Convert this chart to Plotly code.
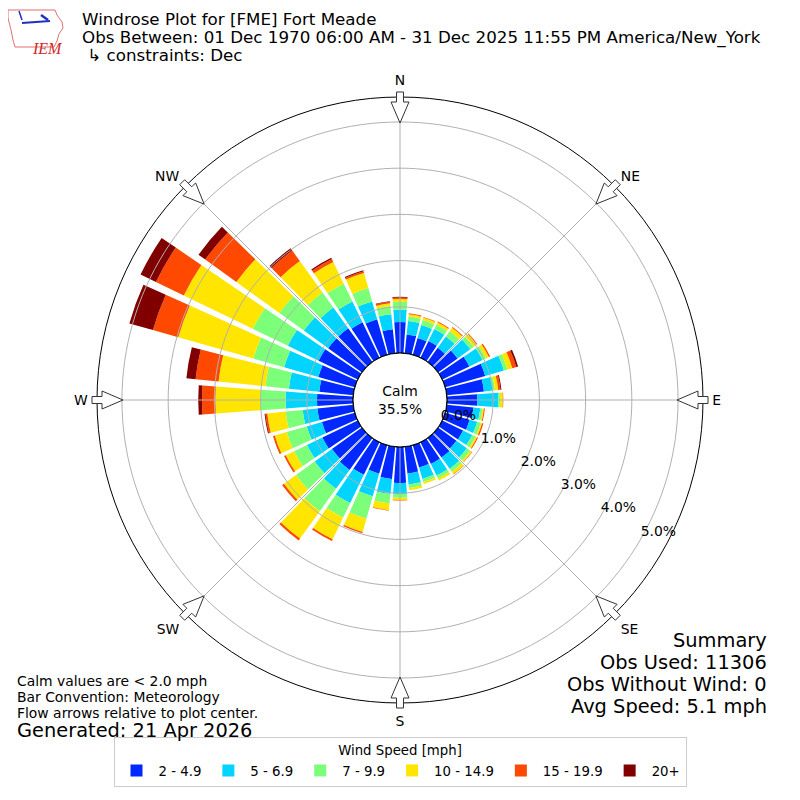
import math
import plotly.graph_objects as go

# wind direction bins (degrees, direction wind blows from)
directions = list(range(0, 360, 10))

speed_bins = ["2 - 4.9", "5 - 6.9", "7 - 9.9", "10 - 14.9", "15 - 19.9", "20+"]
bin_colors = ["#0028ff", "#00d4ff", "#7cff79", "#ffe500", "#ff4800", "#800000"]

# percent of observations per direction, one list per speed class
pct_2_5 = [0.67, 0.41, 0.38, 0.40, 0.38, 0.52, 0.65, 0.90, 0.81, 0.66,
           0.58, 0.55, 0.50, 0.49, 0.52, 0.52, 0.50, 0.58, 0.78,
           0.70, 0.64, 0.78, 0.85, 0.80, 0.85, 0.74, 0.78, 0.78,
           0.74, 0.82, 0.94, 0.90, 0.90, 0.85, 0.80, 0.52]
pct_5_7 = [0.27, 0.29, 0.29, 0.29, 0.30, 0.34, 0.32, 0.42, 0.19, 0.45,
           0.15, 0.17, 0.22, 0.28, 0.30, 0.28, 0.26, 0.24, 0.24,
           0.33, 0.51, 0.68, 0.50, 0.46, 0.37, 0.34, 0.32, 0.68,
           0.66, 0.77, 0.74, 0.65, 0.55, 0.50, 0.40, 0.33]
pct_7_10 = [0.17, 0.10, 0.11, 0.10, 0.14, 0.09, 0.08, 0.08, 0.05, 0.04,
            0.05, 0.08, 0.08, 0.09, 0.08, 0.07, 0.07, 0.08, 0.08,
            0.20, 0.50, 0.35, 0.60, 0.50, 0.31, 0.45, 0.37, 0.54,
            0.51, 0.69, 0.84, 0.65, 0.40, 0.43, 0.30, 0.18]
pct_10_15 = [0.06, 0.05, 0.06, 0.06, 0.09, 0.08, 0.07, 0.11, 0.07, 0.06,
             0.03, 0.03, 0.04, 0.04, 0.06, 0.05, 0.04, 0.04, 0.05,
             0.15, 0.30, 0.52, 0.73, 0.32, 0.20, 0.27, 0.40, 0.98,
             1.02, 1.69, 1.66, 1.15, 0.84, 0.52, 0.34, 0.06]
pct_15_20 = [0.03, 0.02, 0.01, 0.02, 0.02, 0.02, 0.03, 0.09, 0.05, 0.01,
             0.02, 0.03, 0.02, 0.01, 0.01, 0.00, 0.00, 0.00, 0.01,
             0.01, 0.03, 0.04, 0.05, 0.05, 0.04, 0.04, 0.04, 0.29,
             0.50, 0.57, 0.67, 0.83, 0.28, 0.07, 0.04, 0.03]
pct_20_up = [0.02, 0.00, 0.00, 0.00, 0.00, 0.00, 0.00, 0.04, 0.02, 0.00,
             0.00, 0.00, 0.00, 0.00, 0.00, 0.00, 0.00, 0.00, 0.00,
             0.00, 0.00, 0.00, 0.00, 0.00, 0.00, 0.00, 0.02, 0.08,
             0.20, 0.53, 0.37, 0.18, 0.06, 0.03, 0.02, 0.01]

radial_ticks = [0, 1, 2, 3, 4, 5]
radial_labels = ["0.0%", "1.0%", "2.0%", "3.0%", "4.0%", "5.0%"]
compass_angles = [0, 45, 90, 135, 180, 225, 270, 315]
compass_labels = ["N", "NE", "E", "SE", "S", "SW", "W", "NW"]

calm_pct = "35.5%"
r_max = 5.54
font = "DejaVu Sans"

# page has an 8px body margin, so the figure is 784px and sits at (8, 8)
W = 784
OFF = 8


def px(sx):
    return (sx - OFF) / W


def py(sy):
    return 1 - (sy - OFF) / W


fig = go.Figure()

series = [pct_2_5, pct_5_7, pct_7_10, pct_10_15, pct_15_20, pct_20_up]
for name, color, vals in zip(speed_bins, bin_colors, series):
    fig.add_trace(go.Barpolar(
        r=vals, theta=directions, width=8.4, name=name,
        marker=dict(color=color, line=dict(width=0)),
        hoverinfo="skip",
    ))

# grid drawn on top of the bars, like the original
ring_theta = list(range(0, 361, 2))
for t in radial_ticks[1:]:
    fig.add_trace(go.Scatterpolar(
        r=[t] * len(ring_theta), theta=ring_theta, mode="lines",
        line=dict(color="#b0b0b0", width=1), showlegend=False, hoverinfo="skip"))
for a in compass_angles:
    fig.add_trace(go.Scatterpolar(
        r=[0, r_max], theta=[a, a], mode="lines",
        line=dict(color="#b0b0b0", width=1), showlegend=False, hoverinfo="skip"))
# edge of the calm circle
fig.add_trace(go.Scatterpolar(
    r=[0] * len(ring_theta), theta=ring_theta, mode="lines",
    line=dict(color="black", width=1.2), showlegend=False, hoverinfo="skip"))
# radial labels, placed like matplotlib's (left-bottom at the ring)
fig.add_trace(go.Scatterpolar(
    r=radial_ticks, theta=[120] * len(radial_ticks), mode="text",
    text=radial_labels, textposition="top right",
    textfont=dict(size=13.9, color="black"), showlegend=False, hoverinfo="skip"))

# flow arrows on the outer ring (plot centre at 400,400 on the page)
cx, cy = 400, 400
shapes = []
outline = [(308, -3.5), (298, -3.5), (298, -9), (277, 0), (298, 9), (298, 3.5), (308, 3.5)]
for a in compass_angles:
    rad = math.radians(a)
    ux, uy = math.sin(rad), -math.cos(rad)
    vx, vy = math.cos(rad), math.sin(rad)
    pts = []
    for rr, ww in outline:
        sx = cx + rr * ux + ww * vx
        sy = cy + rr * uy + ww * vy
        pts.append("%.5f,%.5f" % (px(sx), py(sy)))
    shapes.append(dict(type="path", xref="paper", yref="paper",
                       path="M" + " L".join(pts) + " Z",
                       fillcolor="white", line=dict(color="#333333", width=1)))

# IEM logo (rough)
iowa = [(8, 10), (55, 10), (57, 15), (62, 22), (63, 28), (59, 34), (57, 41),
        (54, 47), (15, 47), (13, 40), (11, 30), (8, 18)]
shapes.append(dict(type="path", xref="paper", yref="paper",
                   path="M" + " L".join("%.5f,%.5f" % (px(x), py(y)) for x, y in iowa) + " Z",
                   line=dict(color="#e07070", width=1)))
shapes.append(dict(type="line", xref="paper", yref="paper",
                   x0=px(22), y0=py(23), x1=px(50), y1=py(21),
                   line=dict(color="#2030c0", width=2)))
shapes.append(dict(type="line", xref="paper", yref="paper",
                   x0=px(41), y0=py(15), x1=px(48), y1=py(20),
                   line=dict(color="#2030c0", width=2.5)))
shapes.append(dict(type="line", xref="paper", yref="paper",
                   x0=px(19), y0=py(11), x1=px(22), y1=py(20),
                   line=dict(color="#2030c0", width=1.5)))

fig.update_layout(
    width=W, height=W,
    margin=dict(l=0, r=0, t=0, b=0),
    paper_bgcolor="white",
    font=dict(family=font, size=13.9, color="black"),
    barmode="stack",
    shapes=shapes,
    polar=dict(
        domain=dict(x=[px(97), px(703)], y=[py(703), py(97)]),
        hole=0.155,
        bgcolor="white",
        angularaxis=dict(
            direction="clockwise", rotation=90,
            tickmode="array", tickvals=compass_angles, ticktext=compass_labels,
            showgrid=False, showline=True, linecolor="black", linewidth=1,
            ticks="outside", ticklen=6, tickcolor="rgba(0,0,0,0)",
            tickfont=dict(size=13.9),
        ),
        radialaxis=dict(
            range=[0, r_max], showticklabels=False,
            showgrid=False, showline=False, ticks="",
        ),
    ),
    legend=dict(
        orientation="h", x=px(400), xanchor="center", y=py(787), yanchor="bottom",
        bordercolor="#cccccc", borderwidth=1, itemwidth=34,
        title=dict(text="Wind Speed [mph]", side="top center", font=dict(size=13.3)),
        font=dict(size=13.3),
    ),
)

notes = [
    ("Windrose Plot for [FME] Fort Meade", 80, 19, 16.7, "left"),
    ("Obs Between: 01 Dec 1970 06:00 AM - 31 Dec 2025 11:55 PM America/New_York", 80, 37, 16.7, "left"),
    (" ↳ constraints: Dec", 80, 55, 16.7, "left"),
    ("Calm values are < 2.0 mph", 15, 680.5, 13.9, "left"),
    ("Bar Convention: Meteorology", 15, 696.5, 13.9, "left"),
    ("Flow arrows relative to plot center.", 15, 712.5, 13.9, "left"),
    ("Generated: 21 Apr 2026", 15, 730.5, 19.4, "left"),
    ("Summary", 769, 640, 19.4, "right"),
    ("Obs Used: 11306", 769, 662, 19.4, "right"),
    ("Obs Without Wind: 0", 769, 684, 19.4, "right"),
    ("Avg Speed: 5.1 mph", 769, 706, 19.4, "right"),
]
for text, x, y, size, side in notes:
    fig.add_annotation(text=text, x=px(x), y=py(y), xref="paper", yref="paper",
                       xanchor=side, yanchor="middle", showarrow=False,
                       font=dict(size=size))

fig.add_annotation(text="Calm<br>" + calm_pct, x=px(400), y=py(400), xref="paper", yref="paper",
                   showarrow=False, font=dict(size=13.9))
fig.add_annotation(text="<i>IEM</i>", x=px(30), y=py(38), xref="paper", yref="paper",
                   showarrow=False, font=dict(family="Liberation Serif", size=16, color="#d02828"))

fig.write_html("out.html")
